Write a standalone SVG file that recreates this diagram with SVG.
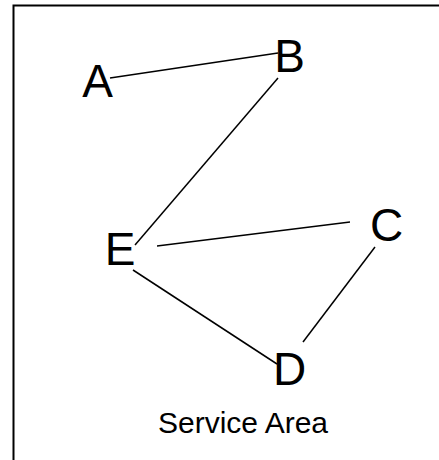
<svg xmlns="http://www.w3.org/2000/svg" width="439" height="460" viewBox="0 0 439 460">
<style>
.lbl{font-family:"Liberation Sans",Arial,sans-serif;font-size:46px;fill:#000;text-anchor:middle}
.cap{font-family:"Liberation Sans",Arial,sans-serif;font-size:30px;fill:#000;text-anchor:middle}
.edge{stroke:#000;stroke-width:1.5;fill:none}
</style>
<rect x="0" y="0" width="439" height="460" fill="#fff"/>
<rect x="13.5" y="5.5" width="440" height="470" fill="none" stroke="#000" stroke-width="2"/>
<g id="connectors">
<line class="edge" x1="110" y1="78" x2="278" y2="53"/>
<line class="edge" x1="278" y1="78" x2="135" y2="245"/>
<line class="edge" x1="157" y1="246" x2="350" y2="222"/>
<line class="edge" x1="133" y1="270" x2="277" y2="364"/>
<line class="edge" x1="375" y1="247" x2="303" y2="342"/>
</g>
<g id="A"><text class="lbl" x="97.5" y="97">A</text></g>
<g id="B"><text class="lbl" x="289.5" y="72">B</text></g>
<g id="E"><text class="lbl" x="120" y="265">E</text></g>
<g id="C"><text class="lbl" x="386.5" y="241">C</text></g>
<g id="D"><text class="lbl" x="289.5" y="385">D</text></g>
<g id="label"><text class="cap" x="243" y="433">Service Area</text></g>
</svg>
